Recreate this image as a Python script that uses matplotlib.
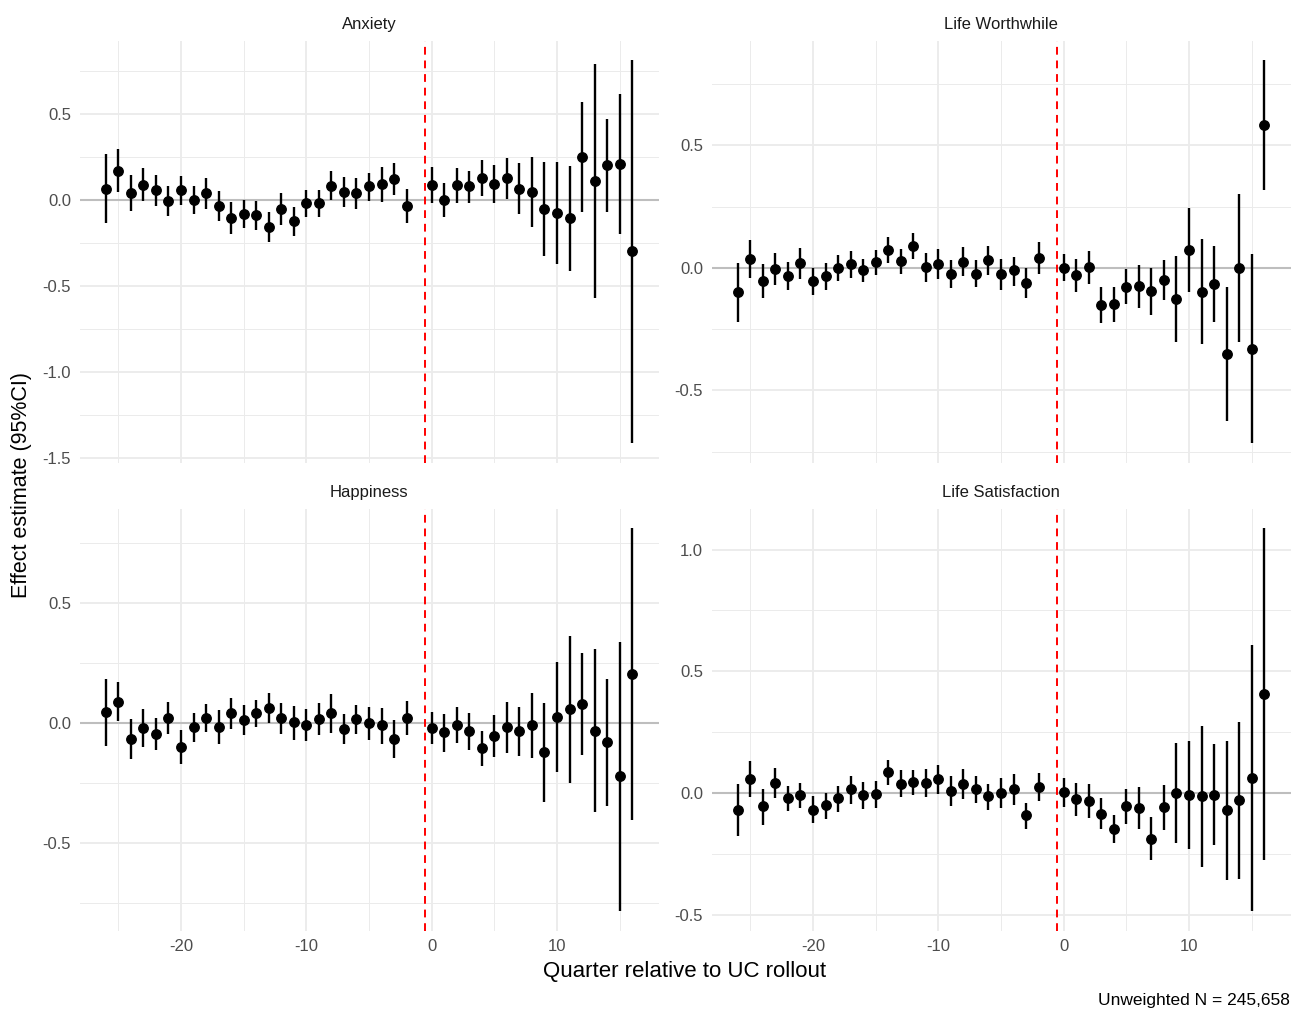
import numpy as np
import matplotlib
matplotlib.use("Agg")
import matplotlib.pyplot as plt

plt.rcParams['font.family'] = ['Liberation Sans', 'DejaVu Sans']
plt.rcParams['axes.unicode_minus'] = False

# quarters relative to rollout (-1 is the reference period)
quarters = [q for q in range(-26, 17) if q != -1]

# estimates and 95% CI
anx_est = [0.066, 0.169, 0.040, 0.089, 0.056, -0.008, 0.056, 0.000, 0.039, -0.033,
           -0.105, -0.080, -0.089, -0.155, -0.054, -0.124, -0.017, -0.017, 0.083, 0.048,
           0.039, 0.079, 0.091, 0.124, -0.033,
           0.089, 0.000, 0.085, 0.079, 0.128, 0.095, 0.128, 0.066, 0.047, -0.052,
           -0.074, -0.107, 0.250, 0.110, 0.203, 0.211, -0.298]
anx_hi = [0.267, 0.295, 0.143, 0.186, 0.145, 0.079, 0.140, 0.079, 0.130, 0.054,
          -0.012, 0.002, -0.006, -0.068, 0.039, -0.043, 0.058, 0.060, 0.167, 0.136,
          0.128, 0.159, 0.192, 0.217, 0.064,
          0.194, 0.097, 0.186, 0.169, 0.231, 0.205, 0.246, 0.215, 0.252, 0.221,
          0.221, 0.200, 0.568, 0.791, 0.471, 0.618, 0.816]
anx_lo = [-0.135, 0.045, -0.066, -0.004, -0.035, -0.093, -0.029, -0.081, -0.050, -0.124,
          -0.198, -0.163, -0.174, -0.246, -0.147, -0.207, -0.097, -0.097, -0.002, -0.041,
          -0.050, -0.004, -0.010, 0.031, -0.132,
          -0.016, -0.101, -0.016, -0.016, 0.025, -0.019, 0.008, -0.081, -0.159, -0.326,
          -0.370, -0.411, -0.068, -0.568, -0.068, -0.198, -1.415]

lw_est = [-0.099, 0.038, -0.052, -0.004, -0.033, 0.020, -0.052, -0.034, 0.000, 0.015,
          -0.007, 0.023, 0.072, 0.030, 0.091, 0.003, 0.016, -0.023, 0.026, -0.023,
          0.031, -0.026, -0.010, -0.061, 0.041,
          0.001, -0.030, 0.003, -0.151, -0.147, -0.078, -0.073, -0.094, -0.049, -0.125,
          0.073, -0.098, -0.065, -0.350, 0.000, -0.329, 0.585]
lw_hi = [0.022, 0.113, 0.018, 0.059, 0.023, 0.083, 0.001, 0.019, 0.052, 0.069,
         0.038, 0.073, 0.127, 0.079, 0.144, 0.060, 0.078, 0.034, 0.086, 0.033,
         0.089, 0.035, 0.046, 0.001, 0.105,
         0.057, 0.037, 0.067, -0.078, -0.078, -0.005, 0.012, 0.000, 0.033, 0.048,
         0.245, 0.116, 0.090, -0.078, 0.302, 0.057, 0.850]
lw_lo = [-0.219, -0.040, -0.122, -0.069, -0.090, -0.044, -0.109, -0.090, -0.053, -0.041,
         -0.058, -0.030, 0.019, -0.026, 0.038, -0.058, -0.044, -0.083, -0.035, -0.079,
         -0.030, -0.090, -0.072, -0.121, -0.024,
         -0.054, -0.098, -0.064, -0.226, -0.219, -0.148, -0.162, -0.191, -0.132, -0.301,
         -0.098, -0.312, -0.219, -0.626, -0.301, -0.716, 0.317]

hap_est = [0.044, 0.089, -0.067, -0.021, -0.046, 0.022, -0.099, -0.018, 0.019, -0.018,
           0.042, 0.014, 0.040, 0.064, 0.019, 0.003, -0.007, 0.017, 0.040, -0.024,
           0.015, 0.000, -0.010, -0.067, 0.021,
           -0.022, -0.039, -0.008, -0.033, -0.105, -0.053, -0.017, -0.033, -0.010, -0.122,
           0.026, 0.060, 0.080, -0.032, -0.080, -0.222, 0.205]
hap_hi = [0.185, 0.169, 0.018, 0.058, 0.021, 0.088, -0.029, 0.040, 0.079, 0.053,
          0.105, 0.076, 0.094, 0.124, 0.083, 0.069, 0.058, 0.083, 0.121, 0.039,
          0.075, 0.065, 0.063, 0.011, 0.092,
          0.045, 0.036, 0.065, 0.040, -0.035, 0.032, 0.087, 0.065, 0.124, 0.083,
          0.254, 0.365, 0.293, 0.308, 0.185, 0.340, 0.815]
hap_lo = [-0.097, 0.008, -0.151, -0.101, -0.114, -0.047, -0.170, -0.079, -0.039, -0.089,
          -0.025, -0.050, -0.017, 0.001, -0.047, -0.071, -0.075, -0.050, -0.043, -0.086,
          -0.047, -0.070, -0.086, -0.145, -0.051,
          -0.089, -0.120, -0.083, -0.111, -0.178, -0.142, -0.124, -0.138, -0.145, -0.328,
          -0.203, -0.249, -0.135, -0.371, -0.346, -0.786, -0.404]

ls_est = [-0.069, 0.059, -0.055, 0.041, -0.022, -0.009, -0.068, -0.049, -0.022, 0.015,
          -0.008, -0.004, 0.086, 0.038, 0.044, 0.042, 0.057, 0.009, 0.038, 0.016,
          -0.014, 0.001, 0.016, -0.091, 0.025,
          0.003, -0.025, -0.031, -0.085, -0.146, -0.052, -0.060, -0.189, -0.057, -0.001,
          -0.009, -0.012, -0.007, -0.071, -0.030, 0.063, 0.407]
ls_hi = [0.038, 0.131, 0.018, 0.102, 0.029, 0.042, -0.012, 0.000, 0.030, 0.071,
         0.047, 0.049, 0.137, 0.093, 0.094, 0.100, 0.117, 0.069, 0.100, 0.071,
         0.038, 0.060, 0.078, -0.040, 0.081,
         0.060, 0.042, 0.038, -0.020, -0.090, 0.018, 0.025, -0.100, 0.031, 0.204,
         0.214, 0.275, 0.200, 0.212, 0.290, 0.609, 1.090]
ls_lo = [-0.175, -0.016, -0.131, -0.020, -0.075, -0.063, -0.124, -0.105, -0.077, -0.047,
         -0.064, -0.063, 0.033, -0.017, -0.009, -0.018, -0.005, -0.052, -0.023, -0.039,
         -0.070, -0.063, -0.048, -0.149, -0.033,
         -0.056, -0.094, -0.101, -0.149, -0.206, -0.127, -0.148, -0.277, -0.150, -0.206,
         -0.232, -0.302, -0.214, -0.357, -0.354, -0.486, -0.275]

outcomes = ["Anxiety", "Life Worthwhile", "Happiness", "Life Satisfaction"]
estimates = [anx_est, lw_est, hap_est, ls_est]
upper = [anx_hi, lw_hi, hap_hi, ls_hi]
lower = [anx_lo, lw_lo, hap_lo, ls_lo]

W, H = 1292, 1009
fig = plt.figure(figsize=(W / 100, H / 100), dpi=100)
fig.patch.set_facecolor("white")

# panel boxes in pixels: left, top, right, bottom
boxes = [(79.5, 40.5, 658.5, 462.5), (711.5, 40.5, 1290.5, 462.5),
         (79.5, 508.5, 658.5, 930.5), (711.5, 508.5, 1290.5, 930.5)]

x = np.array(quarters)
xlo, xhi = x.min() - 0.05 * (x.max() - x.min()), x.max() + 0.05 * (x.max() - x.min())

for i, name in enumerate(outcomes):
    l, t, r, b = boxes[i]
    ax = fig.add_axes([l / W, 1 - b / H, (r - l) / W, (b - t) / H])
    est = np.array(estimates[i])
    hi = np.array(upper[i])
    lo = np.array(lower[i])

    ymin, ymax = lo.min(), hi.max()
    pad = 0.05 * (ymax - ymin)

    # ggplot minimal style grid
    ax.set_xticks([-20, -10, 0, 10])
    ax.set_xticks([-25, -15, -5, 5, 15], minor=True)
    yt = np.arange(-2.0, 2.01, 0.5)
    ax.set_yticks(yt)
    ax.set_yticks(yt + 0.25, minor=True)
    ax.set_xlim(xlo, xhi)
    ax.set_ylim(ymin - pad, ymax + pad)
    ax.grid(which="major", color="#EBEBEB", lw=1.3)
    ax.grid(which="minor", color="#EBEBEB", lw=0.7)
    ax.set_axisbelow(True)
    for s in ax.spines.values():
        s.set_visible(False)
    ax.tick_params(which="both", length=0, labelsize=12, colors="#4D4D4D", pad=6)
    ax.yaxis.set_major_formatter(matplotlib.ticker.FormatStrFormatter("%.1f"))
    if i < 2:
        ax.tick_params(axis="x", labelbottom=False)

    ax.axhline(0, color="#BEBEBE", lw=1.5, zorder=1)
    ax.axvline(-0.5, color="red", lw=1.4, ls=(0, (4, 3)), zorder=2)
    ax.vlines(x, lo, hi, color="black", lw=1.7, zorder=3)
    ax.plot(x, est, "o", color="black", ms=6.8, zorder=4)

    ax.set_title(name, fontsize=12, color="#1A1A1A", pad=8)

fig.text(685 / W, 1 - 972 / H, "Quarter relative to UC rollout", ha="center", va="center",
         fontsize=16, color="black")
fig.text(22 / W, 1 - 485 / H, "Effect estimate (95%CI)", ha="center", va="center",
         rotation=90, fontsize=15.5, color="black")
fig.text(1290 / W, 1 - 1000 / H, "Unweighted N = 245,658", ha="right", va="center",
         fontsize=12.5, color="black")

fig.savefig("out.png", dpi=100)
